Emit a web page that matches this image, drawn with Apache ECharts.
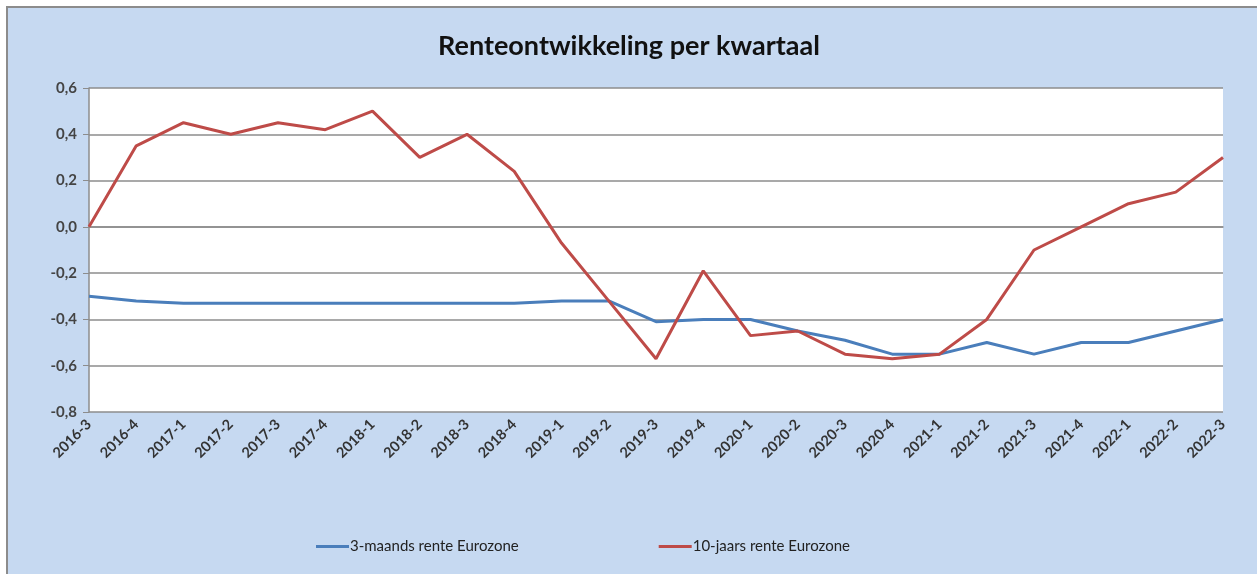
<!DOCTYPE html>
<html>
<head>
<meta charset="utf-8">
<script src="https://cdn.jsdelivr.net/npm/echarts@6/dist/echarts.min.js"></script>
<style>
  html, body { margin: 0; padding: 0; background: #fff; }
  #frame { position: absolute; left: 6px; top: 6px; width: 1251px; height: 568px; background: #c6d9f1; border-left: 2px solid #8c8c8c; border-top: 2px solid #8c8c8c; box-sizing: border-box; }
  #chart { position: absolute; left: 0; top: 0; width: 1258px; height: 574px; }
</style>
</head>
<body>
<div id="frame"></div>
<div id="chart"></div>
<script>
const categories = [
  '2016-3', '2016-4', '2017-1', '2017-2', '2017-3', '2017-4', '2018-1', '2018-2', '2018-3', '2018-4',
  '2019-1', '2019-2', '2019-3', '2019-4', '2020-1', '2020-2', '2020-3', '2020-4', '2021-1', '2021-2',
  '2021-3', '2021-4', '2022-1', '2022-2', '2022-3'
]
const rente3m = [
  -0.30, -0.32, -0.33, -0.33, -0.33, -0.33, -0.33, -0.33, -0.33, -0.33,
  -0.32, -0.32, -0.41, -0.40, -0.40, -0.45, -0.49, -0.55, -0.55, -0.50,
  -0.55, -0.50, -0.50, -0.45, -0.40
]
const rente10j = [
  0.00, 0.35, 0.45, 0.40, 0.45, 0.42, 0.50, 0.30, 0.40, 0.24,
  -0.07, -0.32, -0.57, -0.19, -0.47, -0.45, -0.55, -0.57, -0.55, -0.40,
  -0.10, 0.00, 0.10, 0.15, 0.30
]
const seriesNames = ['3-maands rente Eurozone', '10-jaars rente Eurozone']
const titleText = 'Renteontwikkeling per kwartaal'

const font = 'Lato, "Open Sans", sans-serif'
const chart = echarts.init(document.getElementById('chart'))

chart.setOption({
  backgroundColor: 'transparent',
  animation: false,
  title: {
    text: titleText,
    left: 'center',
    top: 28,
    textStyle: { fontFamily: font, fontSize: 27, fontWeight: 'bold', color: '#111' },
  },
  legend: {
    bottom: 15,
    left: 311,
    itemWidth: 33,
    itemHeight: 3,
    itemGap: 140,
    icon: 'rect',
    textStyle: { fontFamily: font, fontSize: 15, color: '#222', padding: [0, 0, 0, -4] },
    data: seriesNames,
  },
  grid: {
    left: 89, right: 35, top: 88, bottom: 162,
    show: true, backgroundColor: '#fff', borderWidth: 0,
  },
  xAxis: {
    type: 'category',
    data: categories,
    boundaryGap: false,
    axisLine: { lineStyle: { color: '#8c8c8c', width: 1.5 } },
    axisTick: { show: false },
    axisLabel: { rotate: 45, margin: 10, fontFamily: font, fontSize: 14.5, fontWeight: 'bold', color: '#333', interval: 0 },
  },
  yAxis: {
    type: 'value',
    min: -0.8, max: 0.6, interval: 0.2,
    axisLine: { show: true, lineStyle: { color: '#8c8c8c', width: 1.5 } },
    axisTick: { show: true, length: 6, lineStyle: { color: '#8c8c8c' } },
    axisLabel: {
      margin: 12, fontFamily: font, fontSize: 15, fontWeight: 'bold', color: '#444',
      formatter: v => v.toFixed(1).replace('.', ','),
    },
    splitLine: { lineStyle: { color: '#8c8c8c', width: 1.5 } },
  },
  series: [
    {
      name: seriesNames[0], type: 'line', data: rente3m,
      symbol: 'none', lineStyle: { color: '#4a7ebb', width: 3 }, itemStyle: { color: '#4a7ebb' },
    },
    {
      name: seriesNames[1], type: 'line', data: rente10j,
      symbol: 'none', lineStyle: { color: '#be4b48', width: 3 }, itemStyle: { color: '#be4b48' },
    },
  ],
})
</script>
</body>
</html>
